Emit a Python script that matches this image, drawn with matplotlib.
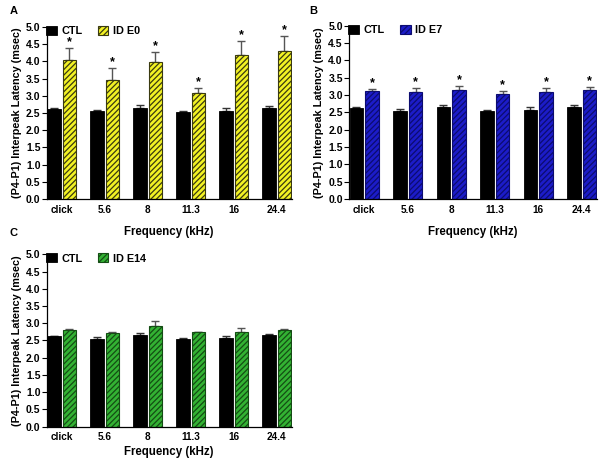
import numpy as np
import matplotlib
matplotlib.use("Agg")
import matplotlib.pyplot as plt

plt.rcParams['font.family'] = ['Liberation Sans', 'DejaVu Sans']
plt.rcParams['font.weight'] = 'bold'
plt.rcParams['hatch.linewidth'] = 0.9

# ---------------- data ----------------
freqs = ['click', '5.6', '8', '11.3', '16', '24.4']

ctl_mean = [2.62, 2.55, 2.65, 2.54, 2.57, 2.65]
ctl_err = [0.02, 0.04, 0.07, 0.02, 0.07, 0.05]

e0_mean = [4.05, 3.45, 3.97, 3.07, 4.18, 4.30]
e0_err = [0.35, 0.37, 0.30, 0.15, 0.42, 0.45]

e7_mean = [3.10, 3.08, 3.13, 3.03, 3.08, 3.15]
e7_err = [0.08, 0.11, 0.13, 0.07, 0.11, 0.08]

e14_mean = [2.80, 2.71, 2.93, 2.74, 2.76, 2.81]
e14_err = [0.03, 0.05, 0.13, 0.02, 0.10, 0.02]

e0_sig = [True] * 6
e7_sig = [True] * 6
e14_sig = [False] * 6


def panel(ax, mean, err, sig, label, face, hatchc):
    x = np.arange(len(freqs))
    w = 0.31
    off = 0.18
    ax.bar(x - off, ctl_mean, w, color='black', edgecolor='black', lw=0.6,
           label='CTL', zorder=2)
    ax.errorbar(x - off, ctl_mean, yerr=[np.zeros(6), ctl_err], fmt='none',
                ecolor='#333333', elinewidth=1.0, capsize=2.6, capthick=1.0,
                zorder=1)
    ax.bar(x + off, mean, w, color=face, edgecolor=hatchc, hatch='//////',
           lw=0.8, label=label, zorder=2)
    ax.errorbar(x + off, mean, yerr=[np.zeros(6), err], fmt='none',
                ecolor='#555555', elinewidth=1.0, capsize=2.6, capthick=1.0,
                zorder=1)
    for xi, m, e, s in zip(x, mean, err, sig):
        if s:
            ax.text(xi + off, m + e + 0.17, '*', ha='center', va='center',
                    fontsize=9, fontweight='bold')

    ax.set_xlim(-0.35, 5.35)
    ax.set_ylim(0, 5.0)
    ticks = np.arange(0, 5.01, 0.5)
    ax.set_yticks(ticks)
    ax.set_yticklabels([f'{v:.1f}' for v in ticks])
    ax.set_xticks(x)
    ax.set_xticklabels(freqs)
    ax.tick_params(axis='x', length=0, labelsize=7.2, pad=4)
    ax.tick_params(axis='y', length=3.5, width=0.8, labelsize=7.5, pad=1)
    for s in ['top', 'right']:
        ax.spines[s].set_visible(False)
    for s in ['left', 'bottom']:
        ax.spines[s].set_linewidth(0.9)
    ax.set_xlabel('Frequency (kHz)', fontsize=8.3, fontweight='bold')
    ax.set_ylabel('(P4-P1) Interpeak Latency (msec)', fontsize=7.8,
                  fontweight='bold', labelpad=3)
    ax.legend(loc='upper left', bbox_to_anchor=(-0.02, 1.03), ncol=2,
              frameon=False, fontsize=7.8, handlelength=1.0,
              handleheight=0.9, handletextpad=0.4, columnspacing=1.4,
              borderaxespad=0)
    return ax


fig = plt.figure(figsize=(6.05, 4.59), dpi=100)
axA = fig.add_axes([0.0772, 0.5664, 0.405, 0.3747])
axB = fig.add_axes([0.5769, 0.5664, 0.41, 0.378])
axC = fig.add_axes([0.0772, 0.0704, 0.405, 0.3756])

panel(axA, e0_mean, e0_err, e0_sig, 'ID E0', '#f2f224', '#3a3a10')
panel(axB, e7_mean, e7_err, e7_sig, 'ID E7', '#1c1cc8', '#0c0c70')
panel(axC, e14_mean, e14_err, e14_sig, 'ID E14', '#33b233', '#144d14')

axA.xaxis.labelpad = 8
axB.xaxis.labelpad = 8
axC.xaxis.labelpad = 3

fig.text(0.016, 0.988, 'A', fontsize=8, fontweight='bold', va='top')
fig.text(0.511, 0.988, 'B', fontsize=8, fontweight='bold', va='top')
fig.text(0.016, 0.503, 'C', fontsize=8, fontweight='bold', va='top')

fig.savefig('out.png', dpi=100)
